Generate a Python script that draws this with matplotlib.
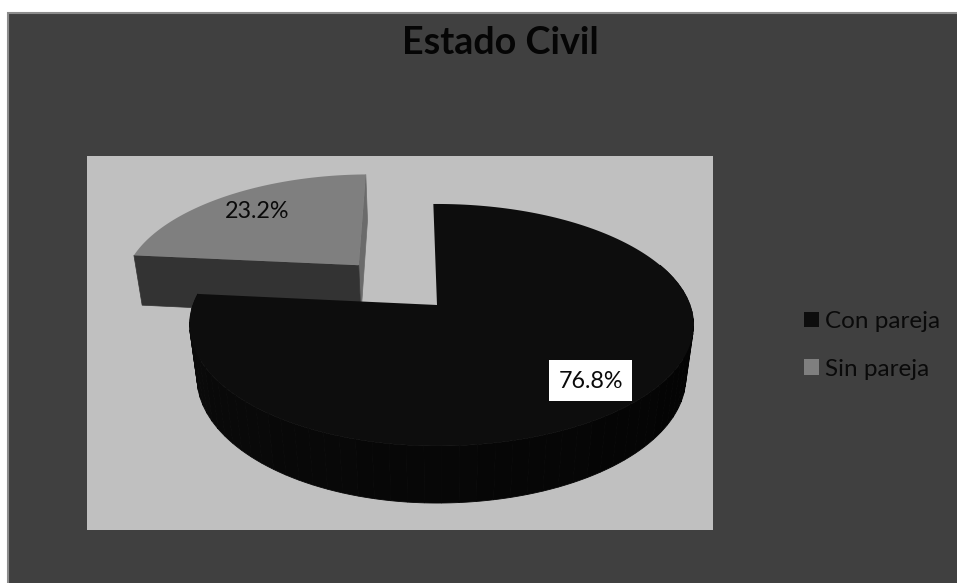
import numpy as np
import matplotlib
matplotlib.use('Agg')
import matplotlib.pyplot as plt
from matplotlib.patches import Rectangle, Patch

categories = ['Con pareja', 'Sin pareja']
shares = [76.8, 23.2]
top_colors = ['#0d0d0d', '#7f7f7f']
title = 'Estado Civil'

plt.rcParams['font.family'] = ['Lato', 'DejaVu Sans']

# disc placement, in figure pixels
CX, CY = 437, 305
RX_LEFT, RX_RIGHT = 244, 253
RY = 117.7
DEPTH = 53.6
TILT = 0.165
SHRINK = 0.03
EXPLODE = 0.48
ROTATION = -1.0


def project(u, v, z=0.0):
    s = 1.0 / (1 + TILT * v + SHRINK * z)
    rx = np.where(np.asarray(u) < 0, RX_LEFT, RX_RIGHT)
    return CX + rx * u * s, CY - RY * v * s + DEPTH * z * s


def arc(a0, a1, n=200):
    # angles are clockwise from twelve o'clock, in degrees
    t = np.radians(np.linspace(a0, a1, n) + ROTATION)
    return np.sin(t), np.cos(t)


def main():
    fig = plt.figure(figsize=(9.57, 5.83), dpi=100, facecolor='white')
    ax = fig.add_axes([0, 0, 1, 1])
    ax.set_xlim(0, 957)
    ax.set_ylim(583, 0)
    ax.axis('off')

    # chart area runs off the right and bottom edges
    ax.add_patch(Rectangle((8, 13), 960, 580, fc='#404040', ec='#8c8c8c', lw=1.5))
    ax.add_patch(Rectangle((87, 156), 626, 374, fc='#c0c0c0', ec='none'))

    sweep = 360 * shares[0] / sum(shares)

    # detached slice first, the big one overlaps it
    mid = np.radians((sweep + 360) / 2)
    du, dv = EXPLODE * np.sin(mid) - 0.02, EXPLODE * np.cos(mid)
    u, v = arc(sweep, 360, 80)
    u, v = u + du, v + dv

    # back cut face, only a sliver of it shows
    x = [project(du, dv)[0], project(u[-1], v[-1])[0], project(u[-1], v[-1], 1)[0], project(du, dv, 1)[0]]
    y = [project(du, dv)[1], project(u[-1], v[-1])[1], project(u[-1], v[-1], 1)[1], project(du, dv, 1)[1]]
    ax.fill(x, y, color='#6b6b6b', lw=0.5)

    # front cut face
    x = [project(du, dv)[0], project(u[0], v[0])[0], project(u[0], v[0], 1)[0], project(du, dv, 1)[0]]
    y = [project(du, dv)[1], project(u[0], v[0])[1], project(u[0], v[0], 1)[1], project(du, dv, 1)[1]]
    ax.fill(x, y, color='#333333', lw=0.5)

    x, y = project(np.r_[du, u], np.r_[dv, v])
    ax.fill(x, y, color=top_colors[1], lw=0)

    # rim of the big slice, split up for the shading along it
    edges = np.linspace(70, sweep, 61)
    for a0, a1 in zip(edges[:-1], edges[1:]):
        u, v = arc(a0, a1, 8)
        xt, yt = project(u, v)
        xb, yb = project(u, v, 1)
        frac = (0.5 * (a0 + a1) - 70) / (sweep - 70)
        grey = 0.008 + 0.035 * frac
        ax.fill(np.r_[xt, xb[::-1]], np.r_[yt, yb[::-1]], color=(grey, grey, grey), lw=0.6)

    u, v = arc(0, sweep)
    x, y = project(np.r_[0, u], np.r_[0, v])
    ax.fill(x, y, color=top_colors[0], lw=0)

    ax.text(257, 211, f'{shares[1]:.1f}%', fontsize=16.8, color='#0a0a0a', ha='center', va='center')
    ax.add_patch(Rectangle((549, 360), 83, 41, fc='white', ec='none', zorder=2.5))
    ax.text(590.5, 381, f'{shares[0]:.1f}%', fontsize=16.8, color='#0a0a0a', ha='center', va='center', zorder=3)

    ax.text(500, 43, title, fontsize=27.2, fontweight='bold', color='#050505', ha='center', va='center')

    handles = [Patch(fc=c, ec='none') for c in top_colors]
    ax.legend(handles, categories, loc='upper left', bbox_to_anchor=(804, 311),
              bbox_transform=ax.transData, frameon=False, fontsize=17.5, labelcolor='#0a0a0a',
              handlelength=0.62, handleheight=0.62, handletextpad=0.25, labelspacing=1.1,
              borderpad=0, borderaxespad=0)

    fig.savefig('out.png', dpi=100)


if __name__ == "__main__":
    main()
